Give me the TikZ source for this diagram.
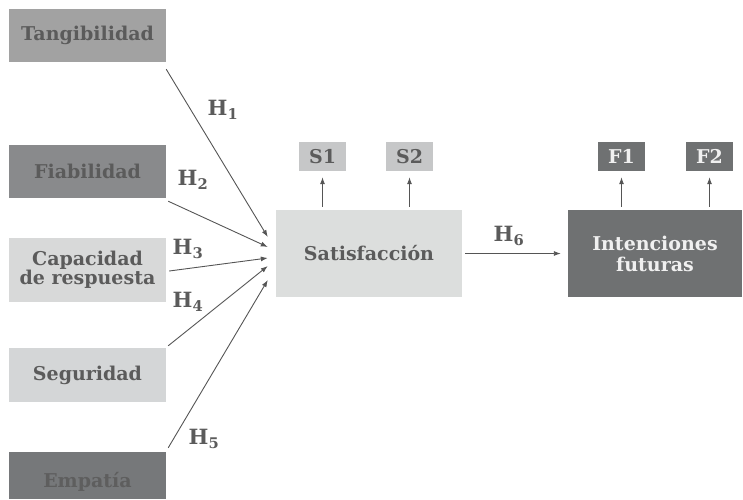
\documentclass[tikz,border=0pt]{standalone}
\usepackage{fontspec}
\setmainfont{DejaVu Serif}
\usetikzlibrary{arrows.meta}
\usepackage{xcolor}

\definecolor{textogris}{HTML}{5B5B5B}
\definecolor{flecha}{HTML}{555555}
\definecolor{tangcol}{HTML}{A2A2A2}
\definecolor{fiabcol}{HTML}{898A8C}
\definecolor{capcol}{HTML}{D8D9D9}
\definecolor{segcol}{HTML}{D4D6D7}
\definecolor{empcol}{HTML}{76787A}
\definecolor{satcol}{HTML}{DCDEDD}
\definecolor{scol}{HTML}{C6C7C8}
\definecolor{fcol}{HTML}{6F7172}

\begin{document}
\begin{tikzpicture}[x=1pt,y=-1pt,
    caja/.style={minimum width=157pt, minimum height=53pt, inner sep=0pt,
        text=textogris, align=center, font=\bfseries\fontsize{19}{19}\selectfont},
    grande/.style={minimum width=186pt, minimum height=87pt, inner sep=0pt,
        align=center, font=\bfseries\fontsize{19}{21}\selectfont},
    item/.style={minimum width=47pt, minimum height=29pt, inner sep=0pt,
        font=\bfseries\fontsize{19}{19}\selectfont},
    hip/.style={text=textogris, inner sep=0pt, font=\bfseries\fontsize{21}{21}\selectfont},
    arr/.style={draw=flecha, line width=0.9pt, -{Latex[length=7pt,width=5pt]}}]

    \useasboundingbox (0,0) rectangle (743,499);

    % constructos de calidad
    \node[caja, fill=tangcol] (tang) at (87.5,35.5) {Tangibilidad};
    \node[caja, fill=fiabcol] (fiab) at (87.5,171.5) {Fiabilidad};
    \node[caja, fill=capcol, minimum height=64pt] (cap) at (87.5,270) {Capacidad\\de respuesta};
    \node[caja, fill=segcol, minimum height=54pt] (seg) at (87.5,375) {Seguridad};
    \node[caja, fill=empcol, minimum height=47pt, text=textogris!90!empcol] (emp) at (87.5,475.5)
        {\raisebox{-12pt}[0pt][0pt]{Empatía}};

    % satisfaccion e intenciones
    \node[grande, fill=satcol, text=textogris] (sat) at (369,253.5) {Satisfacción};
    \node[grande, fill=fcol, text=white!94!black, minimum width=174pt] (int) at (655,253.5) {Intenciones\\futuras};

    \node[item, fill=scol, text=textogris] (s1) at (322.5,156.5) {S1};
    \node[item, fill=scol, text=textogris] (s2) at (409.5,156.5) {S2};
    \node[item, fill=fcol, text=white!94!black] (f1) at (621.5,156.5) {F1};
    \node[item, fill=fcol, text=white!94!black] (f2) at (709.5,156.5) {F2};

    % hipotesis
    \draw[arr] ([shift={(0,7)}]tang.south east) -- ([shift={(-8,-16.5)}]sat.west);
    \draw[arr] ([shift={(2,3)}]fiab.south east) -- ([shift={(-8,-6.5)}]sat.west);
    \draw[arr] ([shift={(3,1)}]cap.east) -- ([shift={(-8,4.5)}]sat.west);
    \draw[arr] ([shift={(2,-2)}]seg.north east) -- ([shift={(-8,12.5)}]sat.west);
    \draw[arr] ([shift={(2,-4)}]emp.north east) -- ([shift={(-8,26.5)}]sat.west);
    \draw[arr, shorten <=3pt, shorten >=7pt] (sat.east) -- (int.west);

    \draw[arr, shorten <=3pt, shorten >=6pt] (s1 |- sat.north) -- (s1.south);
    \draw[arr, shorten <=3pt, shorten >=6pt] (s2 |- sat.north) -- (s2.south);
    \draw[arr, shorten <=3pt, shorten >=6pt] (f1 |- int.north) -- (f1.south);
    \draw[arr, shorten <=3pt, shorten >=6pt] (f2 |- int.north) -- (f2.south);

    \node[hip] (h1) at (223,110) {H\textsubscript{1}};
    \node[hip] (h2) at (193,180) {H\textsubscript{2}};
    \node[hip] (h3) at (188,249) {H\textsubscript{3}};
    \node[hip] (h4) at (188,302) {H\textsubscript{4}};
    \node[hip] (h5) at (204,439) {H\textsubscript{5}};
    \node[hip] (h6) at (509,236) {H\textsubscript{6}};
\end{tikzpicture}
\end{document}
